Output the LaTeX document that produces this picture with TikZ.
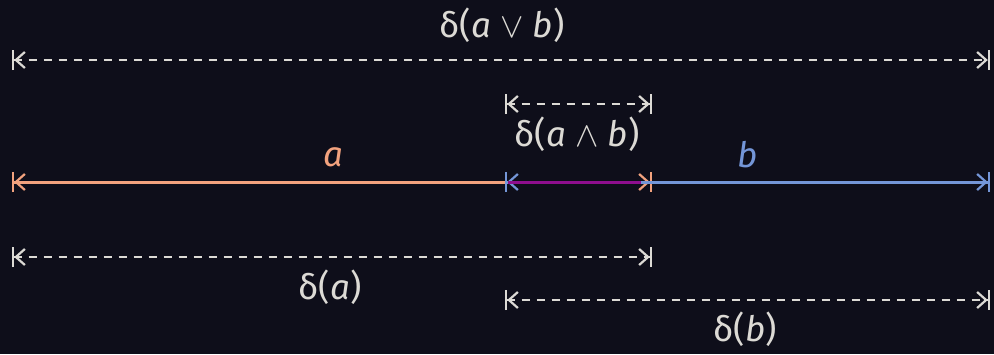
\documentclass[tikz,border=0pt]{standalone}
\usepackage{fix-cm}
\usepackage{fontspec}
\setmainfont{Fira Sans}
\usetikzlibrary{arrows.meta}
\definecolor{bg}{HTML}{0E0E1A}
\definecolor{fg}{HTML}{DCDAD5}
\definecolor{peach}{HTML}{F2A27E}
\definecolor{sky}{HTML}{7496D8}
\definecolor{mauve}{HTML}{8E0E8E}
\tikzset{
  dimtips/.style={arrows={{Bar[width=20pt,line width=2.2pt]Straight Barb[length=9pt,width=16pt,line width=2.2pt]}-{Straight Barb[length=9pt,width=16pt,line width=2.2pt]Bar[width=20pt,line width=2.2pt]}}},
  dimline/.style={draw=fg, line width=2pt, dash pattern=on 8pt off 7pt, dimtips},
  lab/.style={text=fg, font=\fontsize{35}{35}\selectfont, inner sep=0pt, anchor=center},
  seg/.style={line width=3pt}
}
\newcommand{\ita}[1]{\textit{#1}}
\begin{document}
\begin{tikzpicture}[x=1pt,y=-1pt]
\fill[bg] (0,0) rectangle (994,354);
\useasboundingbox (0,0) rectangle (994,354);
% coordinates
\coordinate (L1) at (12,60);  \coordinate (R1) at (990,60);
\coordinate (L2) at (505,104); \coordinate (R2) at (652,104);
\coordinate (A0) at (12,182); \coordinate (A1) at (652,182);
\coordinate (B0) at (505,182); \coordinate (B1) at (990,182);
\coordinate (L3) at (12,257); \coordinate (R3) at (652,257);
\coordinate (L4) at (505,300); \coordinate (R4) at (990,300);
% dashed dimension lines
\draw[dimline] (L1) -- (R1);
\draw[dimline] (L2) -- (R2);
\draw[dimline] (L3) -- (R3);
\draw[dimline] (L4) -- (R4);
% colored segments
\draw[seg, draw=peach, dimtips] (A0) -- (A1);
\draw[seg, draw=sky, dimtips] (B0) -- (B1);
\draw[seg, draw=mauve, shorten <=3pt, shorten >=11pt] (B0) -- (A1);
% labels
\node[lab] (tab) at (502,25) {δ(\ita{a} $\vee$ \ita{b})};
\node[lab] (tmeet) at (577,134) {δ(\ita{a} $\wedge$ \ita{b})};
\node[lab, text=peach] (ta) at (333,157) {\ita{a}};
\node[lab, text=sky] (tb) at (748,155) {\ita{b}};
\node[lab] (tda) at (330,287) {δ(\ita{a})};
\node[lab] (tdb) at (745,329) {δ(\ita{b})};
\end{tikzpicture}
\end{document}
